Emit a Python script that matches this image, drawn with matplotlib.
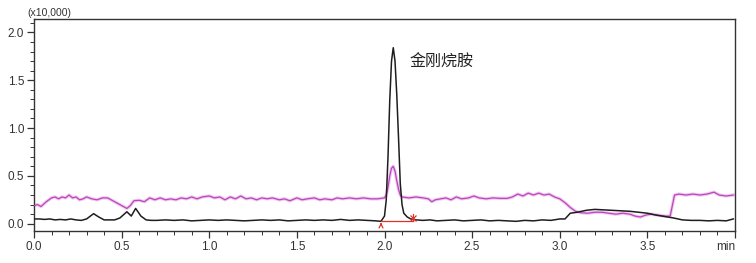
import matplotlib

matplotlib.use("Agg")
import matplotlib.pyplot as plt
import numpy as np
from matplotlib.ticker import MultipleLocator

# chromatogram traces (time in min, intensity x10,000)
black_t = [0.00, 0.03, 0.06, 0.09, 0.12, 0.15, 0.18, 0.21, 0.24, 0.27, 0.30, 0.34, 0.37,
           0.40, 0.43, 0.46, 0.49, 0.53, 0.555, 0.58, 0.61, 0.64, 0.67, 0.70, 0.75, 0.80,
           0.85, 0.90, 0.95, 1.00, 1.05, 1.10, 1.15, 1.20, 1.25, 1.30, 1.35, 1.40, 1.45,
           1.50, 1.55, 1.60, 1.65, 1.70, 1.75, 1.80, 1.85, 1.90, 1.95, 1.98, 2.00, 2.01,
           2.02, 2.03, 2.04, 2.05, 2.06, 2.07, 2.08, 2.09, 2.10, 2.11, 2.13, 2.15, 2.18,
           2.22, 2.26, 2.30, 2.35, 2.40, 2.45, 2.50, 2.55, 2.60, 2.65, 2.70, 2.75, 2.80,
           2.85, 2.90, 2.95, 3.00, 3.03, 3.06, 3.10, 3.15, 3.20, 3.25, 3.30, 3.35, 3.40,
           3.45, 3.50, 3.55, 3.60, 3.65, 3.70, 3.75, 3.80, 3.85, 3.90, 3.95, 3.99]
black_y = [0.05, 0.05, 0.045, 0.05, 0.04, 0.045, 0.04, 0.05, 0.04, 0.035, 0.05, 0.105, 0.07,
           0.04, 0.04, 0.04, 0.06, 0.125, 0.08, 0.16, 0.08, 0.04, 0.035, 0.035, 0.04, 0.035,
           0.04, 0.03, 0.035, 0.04, 0.035, 0.04, 0.035, 0.03, 0.035, 0.04, 0.035, 0.04, 0.03,
           0.035, 0.04, 0.035, 0.04, 0.035, 0.045, 0.035, 0.04, 0.035, 0.03, 0.025, 0.08, 0.25,
           0.70, 1.29, 1.70, 1.84, 1.70, 1.35, 0.90, 0.42, 0.20, 0.11, 0.07, 0.05, 0.04,
           0.035, 0.04, 0.03, 0.035, 0.04, 0.03, 0.035, 0.04, 0.03, 0.035, 0.03, 0.025, 0.035,
           0.03, 0.04, 0.035, 0.05, 0.05, 0.11, 0.12, 0.14, 0.15, 0.145, 0.14, 0.135, 0.13,
           0.12, 0.11, 0.09, 0.075, 0.06, 0.04, 0.035, 0.035, 0.03, 0.035, 0.03, 0.05]

pink_t = [0.00, 0.02, 0.04, 0.07, 0.10, 0.12, 0.14, 0.16, 0.18, 0.20, 0.22, 0.24, 0.26,
          0.28, 0.30, 0.33, 0.36, 0.39, 0.42, 0.45, 0.48, 0.51, 0.53, 0.55, 0.57, 0.60,
          0.63, 0.66, 0.69, 0.72, 0.75, 0.78, 0.81, 0.84, 0.87, 0.90, 0.93, 0.96, 1.00,
          1.03, 1.06, 1.09, 1.12, 1.15, 1.18, 1.21, 1.24, 1.27, 1.30, 1.33, 1.36, 1.40,
          1.43, 1.46, 1.50, 1.53, 1.56, 1.60, 1.63, 1.66, 1.70, 1.73, 1.76, 1.80, 1.84,
          1.88, 1.92, 1.96, 2.00, 2.01, 2.02, 2.03, 2.04, 2.05, 2.06, 2.07, 2.08, 2.09,
          2.10, 2.14, 2.18, 2.22, 2.25, 2.27, 2.29, 2.32, 2.35, 2.38, 2.41, 2.44, 2.48,
          2.51, 2.54, 2.58, 2.62, 2.66, 2.70, 2.73, 2.76, 2.79, 2.82, 2.85, 2.88, 2.91,
          2.94, 2.97, 3.00, 3.03, 3.06, 3.09, 3.12, 3.16, 3.20, 3.24, 3.28, 3.32, 3.36,
          3.40, 3.43, 3.46, 3.49, 3.52, 3.56, 3.60, 3.63, 3.655, 3.68, 3.72, 3.76, 3.80,
          3.84, 3.88, 3.91, 3.95, 3.99]
pink_y = [0.19, 0.20, 0.18, 0.23, 0.27, 0.28, 0.26, 0.28, 0.27, 0.30, 0.27, 0.28, 0.25,
          0.26, 0.28, 0.26, 0.25, 0.27, 0.27, 0.24, 0.21, 0.18, 0.16, 0.19, 0.24, 0.245,
          0.23, 0.27, 0.25, 0.27, 0.25, 0.26, 0.25, 0.27, 0.26, 0.28, 0.26, 0.28, 0.29,
          0.27, 0.28, 0.25, 0.28, 0.26, 0.29, 0.26, 0.27, 0.25, 0.27, 0.26, 0.27, 0.25,
          0.26, 0.24, 0.27, 0.25, 0.26, 0.27, 0.25, 0.26, 0.25, 0.27, 0.26, 0.27, 0.26,
          0.27, 0.26, 0.26, 0.27, 0.30, 0.38, 0.50, 0.58, 0.60, 0.55, 0.45, 0.36, 0.30,
          0.28, 0.27, 0.28, 0.27, 0.26, 0.23, 0.25, 0.26, 0.27, 0.25, 0.28, 0.26, 0.27,
          0.29, 0.27, 0.26, 0.27, 0.265, 0.265, 0.28, 0.31, 0.29, 0.32, 0.30, 0.32, 0.30,
          0.31, 0.28, 0.26, 0.22, 0.17, 0.13, 0.115, 0.11, 0.12, 0.12, 0.11, 0.10, 0.11,
          0.10, 0.08, 0.07, 0.09, 0.10, 0.09, 0.08, 0.08, 0.30, 0.31, 0.30, 0.31, 0.30,
          0.31, 0.33, 0.30, 0.29, 0.30]

# integration baseline of the peak
base_t = [1.98, 2.16]
base_y = [0.03, 0.03]

peak_name = "金刚烷胺"
peak_label_at = (2.14, 1.69)

x_labels = ["0.0", "0.5", "1.0", "1.5", "2.0", "2.5", "3.0", "3.5", "min"]
y_labels = ["0.0", "0.5", "1.0", "1.5", "2.0"]

plt.rcParams["font.family"] = ["Liberation Sans", "DejaVu Sans"]

fig = plt.figure(figsize=(7.56, 2.63), dpi=100)
ax = fig.add_axes([34 / 756, 1 - 231 / 263, 701 / 756, 212 / 263])

ax.plot(pink_t, pink_y, color="#f2c8f2", lw=2.4, zorder=2)
ax.plot(pink_t, pink_y, color="#b848b8", lw=0.9, zorder=3)
ax.plot(black_t, black_y, color="#1e1e1e", lw=1.1, zorder=4)

ax.plot(base_t, base_y, color="#e0302a", lw=0.9, zorder=5)
ax.annotate("", xy=(base_t[0], base_y[0] + 0.01), xytext=(base_t[0], base_y[0] - 0.07),
            arrowprops=dict(arrowstyle="->", color="#e0302a", lw=0.9, mutation_scale=7), zorder=6)
ax.plot([base_t[1]], [base_y[1] + 0.025], marker="x", ms=4, mew=0.9, color="#e0302a", zorder=6)
ax.plot([base_t[1], base_t[1]], [base_y[1], base_y[1] + 0.07], color="#e0302a", lw=0.8, zorder=6)

ax.text(peak_label_at[0], peak_label_at[1], peak_name, fontsize=11.5, color="#222",
        va="center", ha="left", family=["Noto Sans CJK SC", "DejaVu Sans"])

ax.set_xlim(0, 4.0)
ax.set_ylim(-0.076, 2.14)
ax.set_xticks(np.arange(0, 4.01, 0.5))
ax.set_xticklabels(x_labels)
ax.get_xticklabels()[-1].set_horizontalalignment("right")
ax.set_yticks(np.arange(0, 2.01, 0.5))
ax.set_yticklabels(y_labels)
ax.xaxis.set_minor_locator(MultipleLocator(0.1))
ax.yaxis.set_minor_locator(MultipleLocator(0.1))
ax.tick_params(which="major", length=5, width=0.9, labelsize=8.5, colors="#333", pad=2)
ax.tick_params(which="minor", length=3, width=0.7, colors="#333")
for s in ax.spines.values():
    s.set_linewidth(1.0)
    s.set_color("#333")

fig.text(27 / 756, 1 - 13 / 263, "(x10,000)", fontsize=7.5, color="#333", va="center", ha="left")

fig.savefig("out.png", dpi=100)
